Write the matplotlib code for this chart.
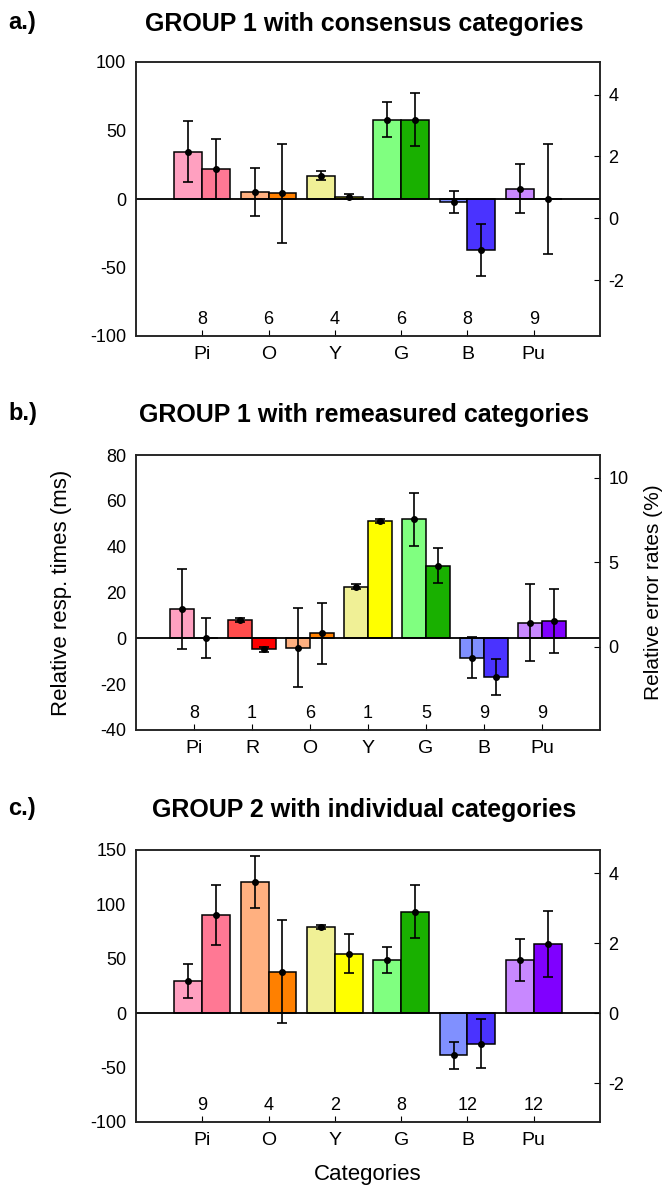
import matplotlib
matplotlib.use("Agg")
import matplotlib.pyplot as plt
import matplotlib.transforms as mtransforms

plt.rcParams['font.family'] = ['Liberation Sans', 'DejaVu Sans']
plt.rcParams['axes.unicode_minus'] = False

# Panel a: GROUP 1, consensus categories
a_cats = ['Pi', 'O', 'Y', 'G', 'B', 'Pu']
a_first = [34.6, 4.9, 17.1, 58.0, -2.0, 7.6]
a_first_err = [22.0, 17.6, 3.5, 13.0, 8.0, 17.6]
a_second = [21.7, 4.1, 1.7, 58.0, -37.5, 0.0]
a_second_err = [22.0, 36.0, 2.0, 19.5, 19.0, 40.0]
a_counts = [8, 6, 4, 6, 8, 9]

# Panel b: GROUP 1, remeasured categories
b_cats = ['Pi', 'R', 'O', 'Y', 'G', 'B', 'Pu']
b_first = [12.8, 8.0, -4.0, 22.5, 51.9, -8.4, 6.8]
b_first_err = [17.5, 1.0, 17.2, 1.0, 11.4, 9.0, 16.9]
b_second = [0.0, -4.8, 2.2, 51.2, 31.7, -16.8, 7.7]
b_second_err = [8.7, 1.0, 13.4, 1.0, 7.7, 8.0, 14.0]
b_counts = [8, 1, 6, 1, 5, 9, 9]

# Panel c: GROUP 2, individual categories
c_cats = ['Pi', 'O', 'Y', 'G', 'B', 'Pu']
c_first = [29.4, 120.9, 79.4, 48.8, -38.7, 48.8]
c_first_err = [15.6, 23.8, 2.0, 11.8, 12.6, 19.3]
c_second = [89.9, 38.3, 54.6, 93.3, -27.9, 63.5]
c_second_err = [27.5, 47.0, 17.8, 24.4, 22.7, 30.4]
c_counts = [9, 4, 2, 8, 12, 12]

# light / dark shade per colour category
palette = {
    'Pi': ('#ffa0c0', '#ff7894'),
    'R': ('#ff4c4c', '#ff0000'),
    'O': ('#ffb080', '#ff8000'),
    'Y': ('#f0f096', '#ffff00'),
    'G': ('#80ff80', '#19b000'),
    'B': ('#8090ff', '#4a33ff'),
    'Pu': ('#c888ff', '#8000ff'),
}

W, H = 663, 1191
fig = plt.figure(figsize=(W / 100, H / 100), dpi=100)


def panel(top_px, bottom_px, cats, first, first_err, second, second_err,
          counts, ylim, yticks, rylim, rticks):
    ax = fig.add_axes([136 / W, 1 - bottom_px / H, 464 / W,
                       (bottom_px - top_px) / H])
    x = list(range(1, len(cats) + 1))
    w = 0.42
    xl = [i - w / 2 for i in x]
    xr = [i + w / 2 for i in x]
    ax.bar(xl, first, w, color=[palette[c][0] for c in cats],
           edgecolor='black', linewidth=1.1, zorder=2)
    ax.bar(xr, second, w, color=[palette[c][1] for c in cats],
           edgecolor='black', linewidth=1.1, zorder=2)
    for xs, ys, es in ((xl, first, first_err), (xr, second, second_err)):
        ax.errorbar(xs, ys, yerr=es, fmt='o', color='black', ms=4,
                    elinewidth=1.2, capsize=3.5, capthick=1.2, zorder=4)
    ax.axhline(0, color='black', lw=1.3, zorder=3)

    ax.set_xlim(0, len(cats) + 1)
    ax.set_ylim(*ylim)
    ax.set_yticks(yticks)
    ax.set_xticks(x)
    ax.set_xticklabels(cats)
    ax.tick_params(axis='y', length=0, pad=7, labelsize=13)
    ax.tick_params(axis='x', direction='in', length=4, pad=7, labelsize=14)
    for s in ax.spines.values():
        s.set_linewidth(1.1)
        s.set_color('#222222')

    trans = mtransforms.blended_transform_factory(ax.transData, ax.transAxes)
    for xi, n in zip(x, counts):
        ax.text(xi, 0.06, str(n), transform=trans, ha='center', va='center',
                fontsize=13)

    ax2 = ax.twinx()
    ax2.set_ylim(*rylim)
    ax2.set_yticks(rticks)
    ax2.tick_params(axis='y', direction='in', length=4, pad=6, labelsize=13)
    for s in ax2.spines.values():
        s.set_linewidth(1.1)
        s.set_color('#222222')
    return ax, ax2


def heading(y_px, letter, title):
    fig.text(8 / W, 1 - y_px / H, letter, fontsize=17, fontweight='bold',
             ha='left', va='center')
    fig.text(364 / W, 1 - (y_px + 2) / H, title, fontsize=18,
             fontweight='bold', ha='center', va='center')


heading(22, 'a.)', 'GROUP 1 with consensus categories')
panel(62, 336, a_cats, a_first, a_first_err, a_second, a_second_err,
      a_counts, (-100, 100), [-100, -50, 0, 50, 100], (-3.8, 5.05), [-2, 0, 2, 4])

heading(413, 'b.)', 'GROUP 1 with remeasured categories')
axb, axb2 = panel(455, 730, b_cats, b_first, b_first_err, b_second,
                  b_second_err, b_counts, (-40, 80),
                  [-40, -20, 0, 20, 40, 60, 80], (-4.91, 11.33), [0, 5, 10])
axb.set_ylabel('Relative resp. times (ms)', fontsize=16)
axb.yaxis.set_label_coords(-0.138, 0.5)
axb2.set_ylabel('Relative error rates (%)', fontsize=15)
axb2.yaxis.set_label_coords(1.095, 0.5)

heading(808, 'c.)', 'GROUP 2 with individual categories')
axc, axc2 = panel(850, 1122, c_cats, c_first, c_first_err, c_second,
                  c_second_err, c_counts, (-100, 150),
                  [-100, -50, 0, 50, 100, 150], (-3.1, 4.66), [-2, 0, 2, 4])
axc.set_xlabel('Categories', fontsize=16)
axc.xaxis.set_label_coords(0.5, -0.155)

fig.savefig('out.png', dpi=100)
